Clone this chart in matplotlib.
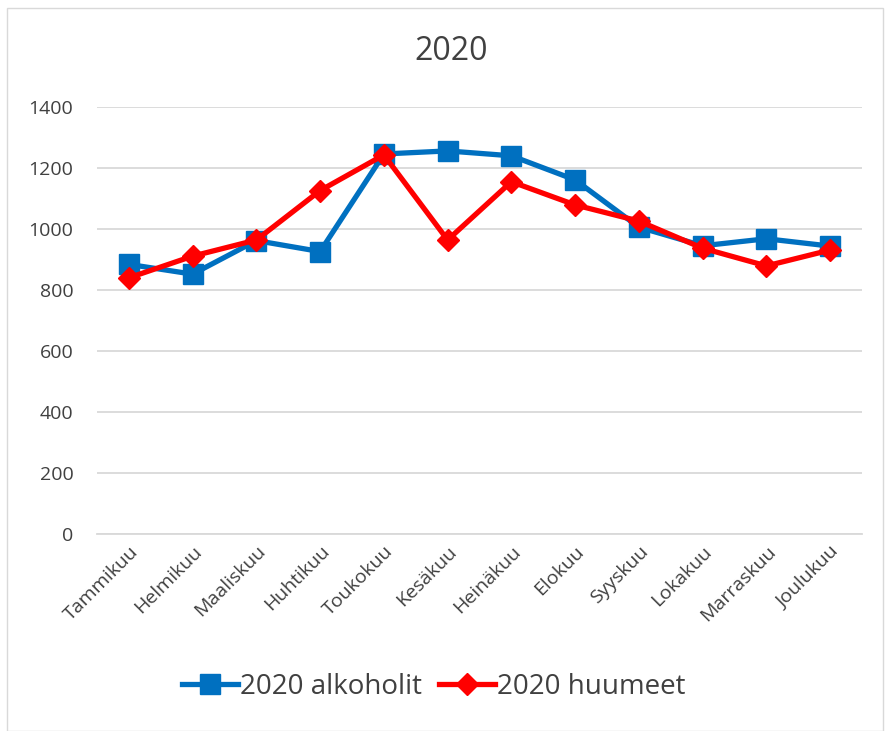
import matplotlib
matplotlib.use("Agg")
import matplotlib.pyplot as plt
from matplotlib.patches import Rectangle

plt.rcParams['font.family'] = ['Open Sans', 'DejaVu Sans']

months = ["Tammikuu", "Helmikuu", "Maaliskuu", "Huhtikuu", "Toukokuu", "Kesäkuu",
          "Heinäkuu", "Elokuu", "Syyskuu", "Lokakuu", "Marraskuu", "Joulukuu"]
alkoholit = [884, 852, 962, 926, 1246, 1256, 1240, 1161, 1006, 945, 968, 944]
huumeet = [840, 911, 964, 1126, 1243, 964, 1155, 1079, 1026, 937, 879, 931]
yticks = [0, 200, 400, 600, 800, 1000, 1200, 1400]

fig = plt.figure(figsize=(8.85, 7.31), dpi=100)
ax = fig.add_axes([97/885, 1-534/731, (862-97)/885, (534-107)/731])

fig.patches.append(Rectangle((7/885, 0), (883-7)/885, 1-8/731, transform=fig.transFigure,
                             fill=False, edgecolor='#d9d9d9', linewidth=1))

x = list(range(len(months)))
ax.plot(x, alkoholit, color='#0070c0', linewidth=3.8, marker='s', markersize=14,
        label='2020 alkoholit', zorder=3)
ax.plot(x, huumeet, color='#ff0000', linewidth=3.8, marker='D', markersize=11,
        label='2020 huumeet', zorder=4)

ax.set_xlim(-0.5, len(months) - 0.5)
ax.set_ylim(0, 1400)
ax.set_yticks(yticks)
ax.set_yticklabels([str(v) for v in yticks], fontsize=14, color='#404040')
ax.set_xticks(x)
ax.set_xticklabels(months, rotation=45, ha='right', rotation_mode='anchor',
                   fontsize=14, color='#404040')
ax.tick_params(axis='y', length=0, pad=17)
ax.tick_params(axis='x', length=0, pad=6)
ax.grid(axis='y', color='#d9d9d9', linewidth=1.3)
ax.set_axisbelow(True)
for s in ['top', 'right', 'left']:
    ax.spines[s].set_visible(False)
ax.spines['bottom'].set_color('#d9d9d9')
ax.spines['bottom'].set_linewidth(1.3)

fig.text(451/885, 1-51/731, '2020', ha='center', va='center', fontsize=23, color='#404040')

leg = fig.legend(loc='center', bbox_to_anchor=(434/885, 1-687/731), ncol=2, frameon=False,
                 fontsize=20, handlelength=2.0, columnspacing=0.6, handletextpad=0.1,
                 labelcolor='#404040')

fig.savefig('out.png', dpi=100, facecolor='white')
